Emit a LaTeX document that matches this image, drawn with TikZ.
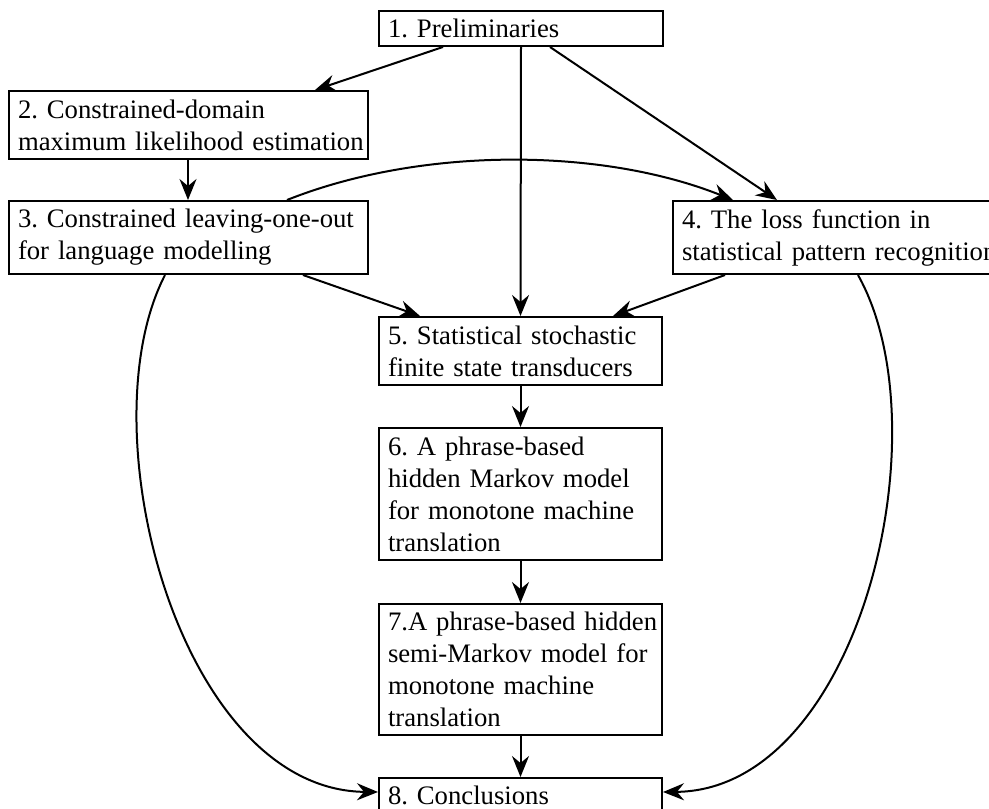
\documentclass[tikz,border=0pt]{standalone}
\usepackage{fontspec}
\setmainfont{Liberation Serif}
\usetikzlibrary{arrows.meta,calc}
\frenchspacing
\begin{document}
\begin{tikzpicture}[x=1pt,y=-1pt,
  box/.style={draw, line width=2pt, anchor=north west, align=left,
    inner xsep=9pt, inner ysep=2pt, font=\fontsize{26.7}{32}\selectfont},
  arr/.style={-{Stealth[length=21pt,width=17pt,inset=7pt]}, line width=2pt}]
\useasboundingbox (0,0) rectangle (989,809);
\node[box, text width=266pt, minimum height=35pt] (n1) at (378,10) {1. Preliminaries};
\node[box, text width=341pt, minimum height=68pt] (n2) at (8,90) {\mbox{2. Constrained-domain}\\\mbox{maximum likelihood estimation}};
\node[box, text width=341pt, minimum height=73pt] (n3) at (8,200) {\mbox{3. Constrained leaving-one-out}\\\mbox{for language modelling}};
\node[box, text width=332pt, minimum height=73pt] (n4) at (672,200) {\mbox{4. The loss function in}\\\mbox{statistical pattern recognition}};
\node[box, text width=265pt, minimum height=68pt] (n5) at (378,316) {\mbox{5. Statistical stochastic}\\\mbox{finite state transducers}};
\node[box, text width=265pt, minimum height=132pt] (n6) at (378,427) {\mbox{6. A phrase-based}\\\mbox{hidden Markov model}\\\mbox{for monotone machine}\\\mbox{translation}};
\node[box, text width=265pt, minimum height=131pt] (n7) at (378,603) {\mbox{7.A phrase-based hidden}\\\mbox{semi-Markov model for}\\\mbox{monotone machine}\\\mbox{translation}};
\node[box, text width=265pt, minimum height=35pt] (n8) at (378,777) {8. Conclusions};

\draw[arr] ($(n1.south west)+(65,0)$) -- ($(n2.north west)+(307,0)$);
\draw[arr] (n1.south) -- (n5.north);
\draw[arr] ($(n1.south west)+(172,0)$) -- ($(n4.north west)+(105,0)$);
\draw[arr] ($(n2.south west)+(180,0)$) -- ($(n3.north west)+(180,0)$);
\draw[arr] ($(n3.north west)+(279,0)$) .. controls (420,147) and (600,147) .. ($(n4.north west)+(61,0)$);
\draw[arr] ($(n3.south west)+(295,0)$) -- ($(n5.north west)+(42,0)$);
\draw[arr] ($(n4.south west)+(53,0)$) -- ($(n5.north west)+(235,0)$);
\draw[arr] (n5.south) -- (n6.north);
\draw[arr] (n6.south) -- (n7.north);
\draw[arr] (n7.south) -- (n8.north);
\draw[arr] ($(n3.south west)+(157,0)$) .. controls (85,430) and (180,790) .. ($(n8.north west)+(0,15)$);
\draw[arr] ($(n4.south west)+(186,0)$) .. controls (945,430) and (859,790) .. ($(n8.north east)+(0,15)$);
\end{tikzpicture}
\end{document}
